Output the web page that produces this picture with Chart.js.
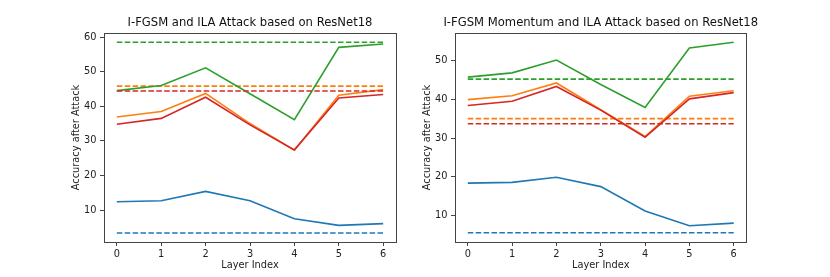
<!DOCTYPE html>
<html>
<head>
<meta charset="utf-8">
<script src="https://cdn.jsdelivr.net/npm/chart.js@4.4.1/dist/chart.umd.min.js"></script>
<style>
  html, body { margin: 0; padding: 0; background: #ffffff; }
  #wrap { position: relative; width: 830px; height: 277px; }
  canvas { position: absolute; left: 0; top: 0; }
</style>
</head>
<body>
<div id="wrap">
  <canvas id="c1" width="830" height="277"></canvas>
  <canvas id="c2" width="830" height="277"></canvas>
</div>
<script>
// ---- data ----
const layers = [0, 1, 2, 3, 4, 5, 6];
const xTicks = [0, 1, 2, 3, 4, 5, 6];

const titleLeft = "I-FGSM and ILA Attack based on ResNet18";
const titleRight = "I-FGSM Momentum and ILA Attack based on ResNet18";
const xLabel = "Layer Index";
const yLabel = "Accuracy after Attack";

const yTicksLeft = [10, 20, 30, 40, 50, 60];
const yTicksRight = [10, 20, 30, 40, 50];

// Left panel (I-FGSM + ILA)
const leftBlue   = [12.4, 12.7, 15.4, 12.7, 7.5, 5.6, 6.1];
const leftOrange = [36.9, 38.5, 43.7, 35.0, 27.3, 43.2, 44.8];
const leftGreen  = [44.5, 46.0, 51.1, 43.6, 36.1, 57.0, 58.0];
const leftRed    = [34.8, 36.5, 42.6, 34.6, 27.4, 42.4, 43.4];
// Baselines (dashed): blue, orange, green, red
const leftBase   = [3.4, 45.8, 58.5, 44.4];

// Right panel (I-FGSM Momentum + ILA)
const rightBlue   = [18.4, 18.6, 19.9, 17.5, 11.2, 7.4, 8.1];
const rightOrange = [39.9, 40.9, 44.2, 37.3, 30.4, 40.8, 42.2];
const rightGreen  = [45.7, 46.8, 50.1, 43.8, 37.9, 53.2, 54.7];
const rightRed    = [38.4, 39.5, 43.3, 37.2, 30.2, 40.1, 41.7];
const rightBase   = [5.6, 35.0, 45.2, 33.7];

// ---- styling ----
const C = { blue: '#1f77b4', orange: '#ff7f0e', green: '#2ca02c', red: '#d62728' };
const FONT = "'DejaVu Sans', sans-serif";
const W = 830, H = 277;
const FS = 9.8, TFS = 11.6;

function pts(vals) { return vals.map((v, i) => ({ x: layers[i], y: v })); }
function flat(v) { return layers.map(x => ({ x: x, y: v })); }

function makeDatasets(blue, orange, green, red, base) {
  const lw = 1.6, dash = [5.5, 2.4];
  const mk = (data, color, dashed, order) => ({
    data, borderColor: color, backgroundColor: color, borderWidth: lw,
    borderDash: dashed ? dash : [], pointRadius: 0, tension: 0, fill: false, order,
    borderCapStyle: 'butt'
  });
  return [
    mk(pts(blue), C.blue, false, 8),
    mk(flat(base[0]), C.blue, true, 7),
    mk(pts(orange), C.orange, false, 6),
    mk(flat(base[1]), C.orange, true, 5),
    mk(pts(green), C.green, false, 4),
    mk(flat(base[2]), C.green, true, 3),
    mk(pts(red), C.red, false, 2),
    mk(flat(base[3]), C.red, true, 1)
  ];
}

const framePlugin = {
  id: 'frame',
  afterDraw(chart, args, opts) {
    const a = chart.chartArea, ctx = chart.ctx;
    ctx.save();
    ctx.strokeStyle = '#444';
    ctx.lineWidth = 1;
    const l = Math.round(a.left) + 0.5, t = Math.round(a.top) + 0.5;
    const r = Math.round(a.right) - 0.5, b = Math.round(a.bottom) - 0.5;
    ctx.strokeRect(l, t, r - l, b - t);
    // title
    ctx.fillStyle = '#111';
    ctx.font = TFS + 'px ' + FONT;
    ctx.textAlign = 'center';
    ctx.textBaseline = 'middle';
    ctx.fillText(opts.text, (a.left + a.right) / 2, opts.y);
    ctx.restore();
  }
};

function makeChart(id, cfg) {
  const area = cfg.area; // desired chart area
  const half = FS * 1.2 / 2;
  const padLeft = cfg.yTitleX - half;
  const padBottom = 271.3 - half * 2 + half - 265.7 + 265.7 - 265.7 + 5.7 - (half - 5.64);
  new Chart(document.getElementById(id), {
    type: 'line',
    data: { datasets: cfg.datasets },
    options: {
      responsive: false,
      animation: false,
      events: [],
      layout: { padding: { left: padLeft, right: W - area.right, top: area.top, bottom: H - 265.7 - half } },
      plugins: {
        legend: { display: false },
        tooltip: { enabled: false },
        title: { display: false },
        frame: { text: cfg.title, y: 23 }
      },
      scales: {
        x: {
          type: 'linear', min: -0.3, max: 6.3,
          afterBuildTicks: s => { s.ticks = xTicks.map(v => ({ value: v })); },
          afterFit: s => { s.height = (265.7 + half) - area.bottom; },
          border: { display: false },
          grid: { display: true, drawOnChartArea: false, drawTicks: true, tickLength: 3.5, color: '#444' },
          ticks: { color: '#222', font: { family: FONT, size: FS }, padding: 2.5, maxRotation: 0, callback: v => String(v) },
          title: { display: true, text: xLabel, color: '#222', font: { family: FONT, size: FS }, padding: 0 }
        },
        y: {
          type: 'linear', min: cfg.yMin, max: cfg.yMax,
          afterBuildTicks: s => { s.ticks = cfg.yTicks.map(v => ({ value: v })); },
          afterFit: s => { s.width = area.left - padLeft; },
          border: { display: false },
          grid: { display: true, drawOnChartArea: false, drawTicks: true, tickLength: 3.5, color: '#444' },
          ticks: { color: '#222', font: { family: FONT, size: FS }, padding: 3.5, callback: v => String(v) },
          title: { display: true, text: yLabel, color: '#222', font: { family: FONT, size: FS }, padding: 0 }
        }
      }
    },
    plugins: [framePlugin]
  });
}

makeChart('c1', {
  area: { left: 103.5, right: 396.5, top: 32.5, bottom: 242.5 },
  yTitleX: 76,
  yMin: 0.64, yMax: 61.3,
  yTicks: yTicksLeft,
  title: titleLeft,
  datasets: makeDatasets(leftBlue, leftOrange, leftGreen, leftRed, leftBase)
});

makeChart('c2', {
  area: { left: 454.5, right: 747, top: 32.5, bottom: 242.5 },
  yTitleX: 427,
  yMin: 3.1, yMax: 57.2,
  yTicks: yTicksRight,
  title: titleRight,
  datasets: makeDatasets(rightBlue, rightOrange, rightGreen, rightRed, rightBase)
});
</script>
</body>
</html>
